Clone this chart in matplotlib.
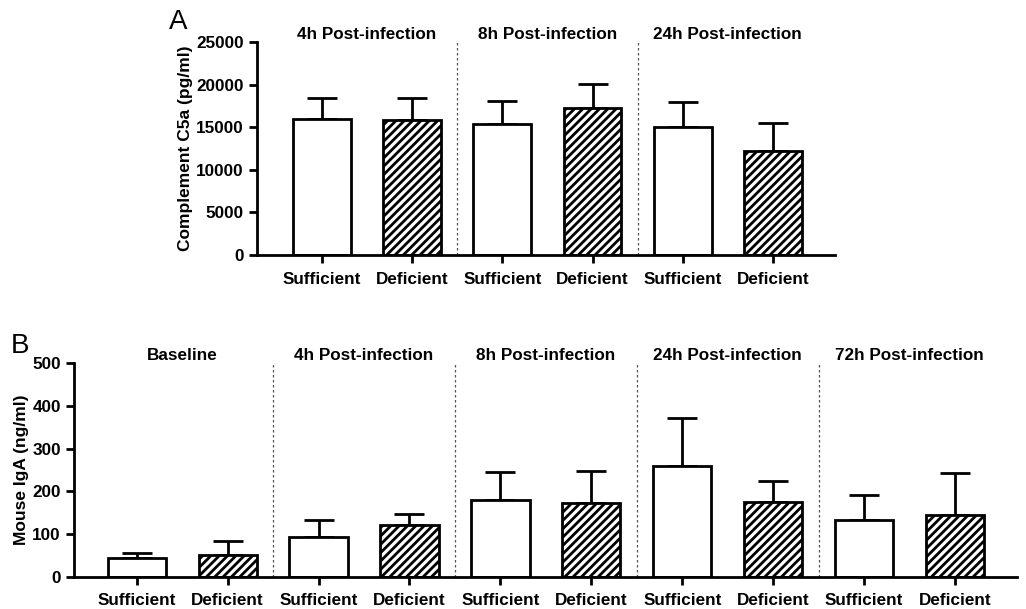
import numpy as np
import matplotlib.pyplot as plt

plt.rcParams['font.family'] = ['Liberation Sans', 'DejaVu Sans']
plt.rcParams['font.weight'] = 'bold'
plt.rcParams['hatch.linewidth'] = 2.0

# Panel A data (C5a, pg/ml)
groups_a = ['4h Post-infection', '8h Post-infection', '24h Post-infection']
mean_a = [16000, 15900, 15400, 17300, 15050, 12200]
upper_a = [18450, 18450, 18100, 20050, 18000, 15450]

# Panel B data (IgA, ng/ml)
groups_b = ['Baseline', '4h Post-infection', '8h Post-infection',
            '24h Post-infection', '72h Post-infection']
mean_b = [43, 51, 94, 121, 180, 173, 260, 176, 133, 144]
upper_b = [55, 83, 133, 147, 246, 248, 371, 225, 191, 242]

conds = ['Sufficient', 'Deficient']

fig = plt.figure(figsize=(10.26, 6.09), dpi=100)


def draw_panel(ax, means, uppers, groups, ylim, yticks, ylabel, xlim):
    n = len(means)
    x = np.arange(n)
    hatches = ['', '////'] * (n // 2)
    for i in range(n):
        ax.bar(x[i], means[i], width=0.64, color='white', edgecolor='black',
               linewidth=2.0, hatch=hatches[i], zorder=2)
        ax.errorbar(x[i], means[i], yerr=[[0], [uppers[i] - means[i]]],
                    fmt='none', ecolor='black', elinewidth=2.0, capsize=10.5,
                    capthick=2.0, zorder=1)
    # group separators
    for g in range(1, len(groups)):
        ax.axvline(2 * g - 0.5, color='#555555', linestyle=(0, (2, 2)),
                   linewidth=0.9, ymin=0, ymax=1, zorder=0)
    for g, name in enumerate(groups):
        ax.text(2 * g + 0.5, ylim[1], name, ha='center', va='bottom',
                fontsize=12.3, fontweight='bold')
    ax.set_xlim(xlim)
    ax.set_ylim(ylim)
    ax.set_yticks(yticks)
    ax.set_xticks(x)
    ax.set_xticklabels(conds * (n // 2))
    ax.set_ylabel(ylabel, fontsize=12.5, fontweight='bold', labelpad=2)
    for s in ['top', 'right']:
        ax.spines[s].set_visible(False)
    for s in ['left', 'bottom']:
        ax.spines[s].set_linewidth(2.0)
    ax.tick_params(axis='both', width=2.0, length=6, labelsize=12.3)
    ax.tick_params(axis='x', pad=6)
    for lab in ax.get_xticklabels() + ax.get_yticklabels():
        lab.set_fontweight('bold')


ax_a = fig.add_axes([0.2505, 0.5813, 0.5635, 0.3498])
draw_panel(ax_a, mean_a, upper_a, groups_a, (0, 25000),
           np.arange(0, 25001, 5000), 'Complement C5a (pg/ml)', (-0.72, 5.69))

ax_b = fig.add_axes([0.0721, 0.053, 0.919, 0.3504])
draw_panel(ax_b, mean_b, upper_b, groups_b, (0, 500),
           np.arange(0, 501, 100), 'Mouse IgA (ng/ml)', (-0.69, 9.68))

fig.text(178 / 1026, 1 - 22 / 609, 'A', fontsize=20, fontweight='normal',
         ha='center', va='center')
fig.text(20 / 1026, 1 - 346 / 609, 'B', fontsize=20, fontweight='normal',
         ha='center', va='center')

fig.savefig('out.png', dpi=100)
